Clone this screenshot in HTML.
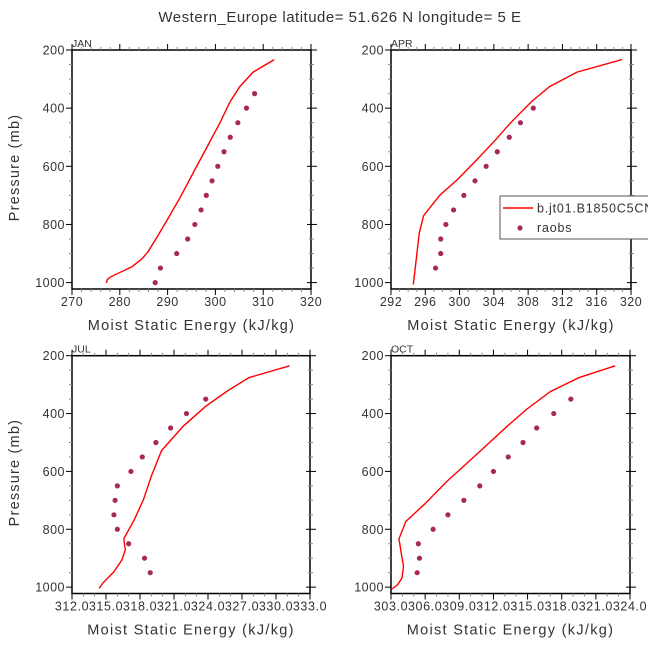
<!DOCTYPE html>
<html><head><meta charset="utf-8"><style>
html,body{margin:0;padding:0;background:#fff;width:648px;height:648px;overflow:hidden}
svg text{font-family:"Liberation Sans","DejaVu Sans",sans-serif;fill:#333}
</style></head><body>
<svg id="chart" width="648" height="648" viewBox="0 0 648 648" xmlns="http://www.w3.org/2000/svg">
<text x="340" y="22" font-size="15" text-anchor="middle" letter-spacing="0.5">Western_Europe  latitude= 51.626 N longitude= 5 E</text>
<g id="panels"></g>
</svg>
<script>
// JAN
const janLineE=[312.3,307.9,305.1,303.1,300.9,298.3,295.5,292.7,289.9,287.8,285.9,284.7,282.6,278.1,277.4,277.2];
const janLineP=[233,276,326,377,452,532,618,705,785,843,894,917,945,980,989,1001];
const janObsE=[308.2,306.5,304.7,303.1,301.8,300.5,299.3,298.1,297.0,295.7,294.2,291.9,288.5,287.4];
const janObsP=[350,400,450,500,550,600,650,700,750,800,850,900,950,1000];
// APR
const aprLineE=[318.95,313.7,310.5,308.4,305.9,304.2,302.0,299.7,297.7,295.8,295.3,294.6];
const aprLineP=[233,276,326,377,452,509,578,647,699,770,829,1007];
const aprObsE=[308.6,307.1,305.8,304.4,303.1,301.8,300.5,299.3,298.4,297.8,297.8,297.2];
const aprObsP=[400,450,500,550,600,650,700,750,800,850,900,950];
// JUL
const julLineE=[331.2,327.6,325.7,323.8,321.8,319.9,319.0,318.3,317.5,316.6,316.6,316.7,316.4,315.7,314.7,314.4];
const julLineP=[235,276,322,375,444,528,617,698,767,831,843,871,906,947,987,1004];
const julObsE=[323.8,322.1,320.7,319.4,318.2,317.2,316.0,315.8,315.7,316.0,317.0,318.4,318.9];
const julObsP=[350,400,450,500,550,600,650,700,750,800,850,900,950];
// OCT
const octLineE=[322.7,319.5,317.0,314.9,313.2,310.8,307.9,305.9,304.3,303.7,303.9,304.1,303.97,303.6,303.1];
const octLineP=[235,276,324,386,444,531,635,715,773,833,882,928,968,991,1006];
const octObsE=[318.8,317.3,315.8,314.6,313.3,312.0,310.8,309.4,308.0,306.7,305.4,305.5,305.3];
const octObsP=[350,400,450,500,550,600,650,700,750,800,850,900,950];

const pTicks=[200,400,600,800,1000];
const janXTicks=[270,280,290,300,310,320];
const aprXTicks=[292,296,300,304,308,312,316,320];
const julXTicks=[312,315,318,321,324,327,330,333];
const octXTicks=[303,306,309,312,315,318,321,324];

const NS="http://www.w3.org/2000/svg";
const root=document.getElementById('panels');
function mk(tag,attrs,parent){const e=document.createElementNS(NS,tag);for(const k in attrs)e.setAttribute(k,attrs[k]);(parent||root).appendChild(e);return e;}

const panels=[
 {name:'jan',label:'JAN',x0:72,x1:311,y0:50,y1:289,xmin:270,xmax:320,xt:janXTicks,minor:2,dec:0,le:janLineE,lp:janLineP,oe:janObsE,op:janObsP},
 {name:'apr',label:'APR',x0:391,x1:631,y0:50,y1:289,xmin:292,xmax:320,xt:aprXTicks,minor:1,dec:0,le:aprLineE,lp:aprLineP,oe:aprObsE,op:aprObsP,legend:true},
 {name:'jul',label:'JUL',x0:72,x1:310,y0:355.7,y1:593.5,xmin:312,xmax:333,xt:julXTicks,minor:1,dec:1,le:julLineE,lp:julLineP,oe:julObsE,op:julObsP},
 {name:'oct',label:'OCT',x0:391,x1:630,y0:355.7,y1:593.5,xmin:303,xmax:324,xt:octXTicks,minor:1,dec:1,le:octLineE,lp:octLineP,oe:octObsE,op:octObsP}
];

panels.forEach(P=>{
 const g=mk('g',{});
 
 
 const ppx=(P.y1-P.y0)/822;
 const ys=p=>P.y0+(p-200)*ppx;
 const xs=v=>P.x0+(v-P.xmin)/(P.xmax-P.xmin)*(P.x1-P.x0);
 const fr=mk('rect',{x:P.x0,y:P.y0,width:P.x1-P.x0,height:P.y1-P.y0,fill:'none',stroke:'#000','stroke-width':1.5},g);
 
 
 for(let p=200;p<=1000;p+=50){
  const y=ys(p), maj=p%200===0;
  mk('line',{x1:P.x0-(maj?6:3),x2:P.x0,y1:y,y2:y,stroke:maj?'#000':'#888','stroke-width':1},g);
  mk('line',{x1:P.x1-(maj?4:2),x2:P.x1+(maj?6:3),y1:y,y2:y,stroke:maj?'#000':'#888','stroke-width':1},g);
 }
 pTicks.forEach(p=>{
  const t=mk('text',{x:P.x0-7,y:ys(p)+4.5,'font-size':12.5,'text-anchor':'end','letter-spacing':'0.5'},g);
  t.textContent=p;
  
  
 });
 for(let v=P.xmin;v<=P.xmax+1e-9;v+=P.minor){
  const x=xs(v), maj=P.xt.some(t=>Math.abs(t-v)<1e-6);
  mk('line',{x1:x,x2:x,y1:P.y0-(maj?6:3),y2:P.y0,stroke:maj?'#000':'#888','stroke-width':1},g);
  mk('line',{x1:x,x2:x,y1:P.y1,y2:P.y1+(maj?6:3),stroke:maj?'#000':'#888','stroke-width':1},g);
 }
 P.xt.forEach(v=>{
  const t=mk('text',{x:xs(v),y:P.y1+17,'font-size':P.dec?12.5:12.5,'text-anchor':'middle','letter-spacing':P.dec?'0.6':'0.5'},g);
  t.textContent=P.dec?v.toFixed(1):v;
  
  
 });
 const xt=mk('text',{x:(P.x0+P.x1)/2,y:P.y1+41,'font-size':14.5,'text-anchor':'middle','letter-spacing':'1.3'},g);
 xt.textContent='Moist Static Energy (kJ/kg)';
 
 
 if(P.x0<200){
  const yt=mk('text',{x:0,y:0,'font-size':14.5,'text-anchor':'middle','letter-spacing':'1.2',transform:`translate(19,${(P.y0+P.y1)/2-2}) rotate(-90)`},g);
  yt.textContent='Pressure (mb)';
  
  
 }
 const lb=mk('text',{x:P.x0,y:P.y0-3,'font-size':10.5},g);
 lb.textContent=P.label;
 
 
 const pts=P.le.map((e,i)=>xs(e).toFixed(1)+','+ys(P.lp[i]).toFixed(1)).join(' ');
 const pl=mk('polyline',{points:pts,fill:'none',stroke:'#f00','stroke-width':1.4},g);
 
 
 P.oe.forEach((e,i)=>{
  const c=mk('circle',{cx:xs(e),cy:ys(P.op[i]),r:2.6,fill:'#a8285a'},g);
  
  
 });
 if(P.legend){
  const lg=mk('g',{},g);
  
  
  mk('rect',{x:500,y:196,width:160,height:43,fill:'#fff',stroke:'#555','stroke-width':1},lg);
  const l1=mk('line',{x1:503,x2:533,y1:208,y2:208,stroke:'#f00','stroke-width':1.4},lg);
  
  
  const t1=mk('text',{x:537,y:212.5,'font-size':12.5,'letter-spacing':'0.8'},lg);
  t1.textContent='b.jt01.B1850C5CN';
  
  
  const c2=mk('circle',{cx:520,cy:228,r:2.6,fill:'#a8285a'},lg);
  
  
  const t2=mk('text',{x:537,y:232,'font-size':12.5,'letter-spacing':'0.8'},lg);
  t2.textContent='raobs';
  
  
 }
});
</script>
</body></html>
